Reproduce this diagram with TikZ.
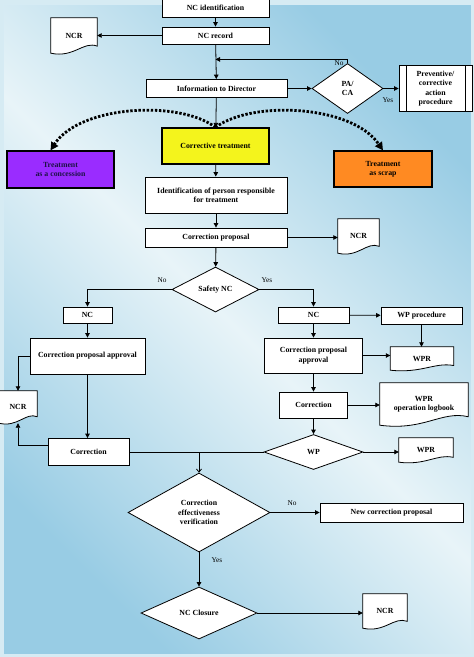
\documentclass[tikz,border=0pt]{standalone}
\usepackage{fontspec}
\setmainfont{Liberation Serif}
\usetikzlibrary{arrows.meta,shapes.geometric,calc}
\pgfdeclarelayer{bg}\pgfdeclarelayer{docs}\pgfsetlayers{bg,docs,main}
\definecolor{bgblue}{HTML}{98CCE4}
\definecolor{bglight}{HTML}{E8F4F8}
\definecolor{pagebg}{HTML}{D6EBF3}
\definecolor{ctyellow}{HTML}{F4F41C}
\definecolor{cpurple}{HTML}{9A2CFF}
\definecolor{corange}{HTML}{FF8A22}
\definecolor{navytext}{HTML}{1C1246}
\tikzset{
 base/.style={font=\fontsize{7.8}{9.4}\selectfont\bfseries, align=center, inner sep=0pt},
 box/.style={base, draw, fill=white, line width=0.8pt, rectangle},
 cbox/.style={box, line width=1.2pt},
 dia/.style={base, draw, fill=white, line width=0.8pt, diamond},
 doc/.style={base, rectangle},
 docline/.style={draw, fill=white, line width=0.8pt},
 arr/.style={-{Triangle[length=4.5pt,width=4.5pt]}, line width=0.8pt},
 oarr/.style={-{Straight Barb[length=3pt,width=5pt]}, line width=0.8pt},
 link/.style={line width=0.8pt},
 dots/.style={line width=2.8pt, dash pattern=on 2.4pt off 1.7pt, -{Triangle[length=8pt,width=8pt]}},
 lab/.style={font=\fontsize{7.3}{8.5}\selectfont, inner sep=0pt},
}
\newcommand{\docshape}[1]{%
 \path[docline] let \p1=(#1.north west), \p2=(#1.south east), \n1={\x2-\x1}, \n2={\y1-\y2} in
 (\x1,\y1) -- (\x2,\y1) -- (\x2,{\y2+0.2*\n2}) .. controls ({\x2-0.3*\n1},{\y2+0.35*\n2}) and ({\x1+0.5*\n1},{\y2-0.14*\n2}) .. (\x1,\y2) -- cycle;}
\begin{document}
\begin{tikzpicture}[x=1pt,y=-1pt]
\useasboundingbox (0,0) rectangle (474,657);
\begin{pgfonlayer}{bg}
\fill[pagebg] (0,0) rectangle (474,657);
\shade[top color=bgblue, bottom color=bgblue, middle color=bglight, shading angle=-45] (3,4) rectangle (471,654);
\draw[white!60!bgblue, line width=0.6pt] (3,4) rectangle (471,654);
\end{pgfonlayer}

\node[box, minimum width=107pt, minimum height=18pt] (nci) at (215.5,8) {NC identification};
\node[box, minimum width=107pt, minimum height=17pt] (ncrec) at (215.5,35.5) {NC record};
\node[doc, minimum width=46pt, minimum height=35pt] (ncr1) at (74,35.5) {NCR};
\node[box, minimum width=141pt, minimum height=18pt] (info) at (216.5,88.5) {Information to Director};
\node[dia, minimum width=71pt, minimum height=50pt, aspect=1.42] (pacal) at (347.5,88.5) {PA/\\CA};
\node[box, minimum width=73pt, minimum height=46pt] (prev) at (435.5,88.5) {Preventive/\\corrective\\action\\procedure};
\draw[line width=0.8pt] ([xshift=8pt]prev.north west) -- ([xshift=8pt]prev.south west);
\draw[line width=0.8pt] ([xshift=-7pt]prev.north east) -- ([xshift=-7pt]prev.south east);
\node[cbox, fill=ctyellow, minimum width=107pt, minimum height=36pt] (ct) at (215.5,146) {Corrective treatment};
\node[cbox, fill=cpurple, text=navytext, minimum width=107pt, minimum height=37pt] (conc) at (60.5,169.5) {Treatment\\as a concession};
\node[cbox, fill=corange, minimum width=98pt, minimum height=36pt] (scrap) at (383,169) {Treatment\\as scrap};
\node[box, minimum width=142pt, minimum height=36pt] (ident) at (216,195) {Identification of person responsible\\for treatment};
\node[box, minimum width=142pt, minimum height=19pt] (cprop) at (216,237.5) {Correction proposal};
\node[doc, minimum width=41pt, minimum height=34pt] (ncr2) at (358.5,236) {NCR};
\node[dia, minimum width=87pt, minimum height=45pt, aspect=1.93] (safety) at (215.5,289.5) {Safety NC};
\node[box, minimum width=49pt, minimum height=16pt] (ncL) at (87.5,315) {NC};
\node[box, minimum width=71pt, minimum height=16pt] (ncR) at (313.5,315) {NC};
\node[box, minimum width=81pt, minimum height=17pt] (wpproc) at (421.5,315.5) {WP procedure};
\node[box, minimum width=115pt, minimum height=36pt] (cpaL) at (87.5,356) {Correction proposal approval};
\node[box, minimum width=98pt, minimum height=35pt] (cpaR) at (313.5,355.5) {Correction proposal\\approval};
\node[doc, minimum width=63pt, minimum height=23pt] (wpr1) at (422,358.5) {WPR};
\node[doc, minimum width=38pt, minimum height=32pt] (ncrL) at (18,407) {NCR};
\node[box, minimum width=68pt, minimum height=26pt] (corrR) at (313.5,405) {Correction};
\node[doc, minimum width=88pt, minimum height=42pt] (logb) at (424,404) {WPR\\operation logbook};
\node[box, minimum width=81pt, minimum height=27pt] (corrL) at (88.5,452) {Correction};
\node[dia, minimum width=99pt, minimum height=35pt, aspect=2.83] (wp) at (313.5,452) {WP};
\node[doc, minimum width=54pt, minimum height=24pt] (wpr2) at (426,450) {WPR};
\node[dia, minimum width=142pt, minimum height=79pt, aspect=1.8] (cev) at (199,512.5) {Correction\\effectiveness\\verification};
\node[box, minimum width=143pt, minimum height=19pt] (newcp) at (391.5,512.5) {New correction proposal};
\node[dia, minimum width=116pt, minimum height=52pt, aspect=2.23] (clos) at (199,613) {NC Closure};
\node[doc, minimum width=44pt, minimum height=34pt] (ncr3) at (385,611) {NCR};

\begin{pgfonlayer}{docs}
\foreach \d in {ncr1,ncr2,wpr1,ncrL,logb,wpr2,ncr3} {\docshape{\d}}
\end{pgfonlayer}

\draw[arr] (nci) -- (ncrec);
\draw[arr] (ncrec) -- (ncr1);
\draw[arr] (ncrec) -- (info);
\draw[arr] (info) -- (pacal);
\draw[arr] (pacal) -- (prev);
\path (ncrec.south) ++(0,15) coordinate (nojoin);
\draw[arr] (pacal.north) |- (nojoin);
\node[lab] (lno1) at (339,63) {No};
\node[lab] (lyes1) at (388,100) {Yes};
\draw[arr] (info) -- (ct);
\draw[dots] (ct.north) .. controls (180,100) and (80,105) .. ([xshift=-10pt]conc.north);
\draw[dots] (ct.north) .. controls (252,100) and (352,105) .. (scrap.north);
\draw[arr] (ct) -- (ident);
\draw[arr] (ident) -- (cprop);
\draw[arr] (cprop.east) -- (cprop.east -| ncr2.west);
\draw[arr] (cprop) -- (safety);
\draw[arr] (safety.west) -| (ncL.north);
\draw[arr] (safety.east) -| (ncR.north);
\node[lab] (lno2) at (162,280) {No};
\node[lab] (lyes2) at (267,280) {Yes};
\draw[arr] (ncR) -- (wpproc);
\draw[arr] (ncL) -- (cpaL);
\draw[arr] (ncR) -- (cpaR);
\draw[arr] (wpproc.south) -- (wpproc.south |- wpr1.north);
\draw[arr] (cpaR.east) -- (cpaR.east -| wpr1.west);
\draw[arr] (cpaL.west) -| (ncrL.north);
\draw[arr] (cpaL.south) -- (cpaL.south |- corrL.north);
\draw[arr] ([yshift=7pt]corrL.west) -| (ncrL.south);
\draw[arr] (cpaR) -- (corrR);
\draw[arr] (corrR.east) -- (corrR.east -| logb.west);
\draw[arr] (corrR) -- (wp);
\draw[arr] (wp.east) -- (wp.east -| wpr2.west);
\draw[link] (corrL.east) -- (wp.west);
\coordinate (jn) at (cev.north |- corrL.east);
\draw[oarr] (jn) -- (cev.north);
\draw[arr] (cev) -- (newcp);
\node[lab] (lno3) at (292,503) {No};
\draw[arr] (cev) -- (clos);
\node[lab] (lyes3) at (217,560) {Yes};
\draw[arr] (clos.east) -- (clos.east -| ncr3.west);
\end{tikzpicture}
\end{document}
